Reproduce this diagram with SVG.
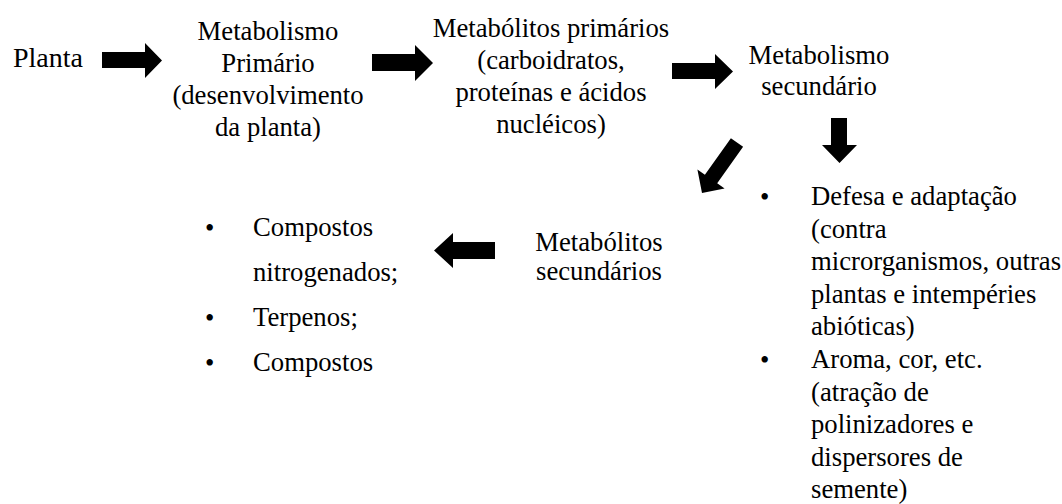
<svg xmlns="http://www.w3.org/2000/svg" width="1062" height="504" viewBox="0 0 1062 504">
<style>
text{font-family:"Liberation Serif","Times New Roman",serif;font-size:26.7px;fill:#000}
.c{text-anchor:middle}
.arrow{fill:#000;stroke:none}
</style>
<rect width="1062" height="504" fill="#fff"/>
<g id="connectors">
<polygon class="arrow" points="102,52 145,52 145,43 162,60.5 145,78 145,68 102,68"/>
<polygon class="arrow" points="372,54 415,54 415,45 433,63 415,81 415,71 372,71"/>
<polygon class="arrow" points="672,63 715,63 715,54 733,71.5 715,89 715,79 672,79"/>
<polygon class="arrow" points="831,118 847,118 847,145 857,145 839.5,163 822,145 831,145"/>
<polygon class="arrow" points="730.9,138.2 743.1,146.8 717.2,183.3 724.6,188.5 702,193 697.4,169.5 704.9,174.7"/>
<polygon class="arrow" points="495,242 453,242 453,233 434,250.5 453,268 453,259 495,259"/>
</g>
<g id="planta"><text x="13" y="67" style="font-size:28px">Planta</text></g>
<g id="metabolismo-primario">
<text class="c" x="268" y="40">Metabolismo</text>
<text class="c" x="268" y="72">Primário</text>
<text class="c" x="268" y="104">(desenvolvimento</text>
<text class="c" x="268" y="136">da planta)</text>
</g>
<g id="metabolitos-primarios">
<text class="c" x="551" y="37">Metabólitos primários</text>
<text class="c" x="551" y="69">(carboidratos,</text>
<text class="c" x="551" y="101">proteínas e ácidos</text>
<text class="c" x="551" y="133">nucléicos)</text>
</g>
<g id="metabolismo-secundario">
<text class="c" x="819" y="64">Metabolismo</text>
<text class="c" x="819" y="95">secundário</text>
</g>
<g id="metabolitos-secundarios">
<text class="c" x="599" y="251">Metabólitos</text>
<text class="c" x="599" y="280">secundários</text>
</g>
<g id="lista-compostos">
<text x="205" y="237">•</text>
<text x="253" y="236">Compostos</text>
<text x="253" y="281">nitrogenados;</text>
<text x="205" y="327">•</text>
<text x="253" y="326">Terpenos;</text>
<text x="205" y="372">•</text>
<text x="253" y="371">Compostos</text>
</g>
<g id="lista-funcoes">
<text x="760" y="206">•</text>
<text x="811" y="205">Defesa e adaptação</text>
<text x="811" y="237.6">(contra</text>
<text x="811" y="270.2">microrganismos, outras</text>
<text x="811" y="302.8">plantas e intempéries</text>
<text x="811" y="335.4">abióticas)</text>
<text x="760" y="369">•</text>
<text x="811" y="368">Aroma, cor, etc.</text>
<text x="811" y="400.6">(atração de</text>
<text x="811" y="433.2">polinizadores e</text>
<text x="811" y="465.8">dispersores de</text>
<text x="811" y="498.4">semente)</text>
</g>
</svg>
